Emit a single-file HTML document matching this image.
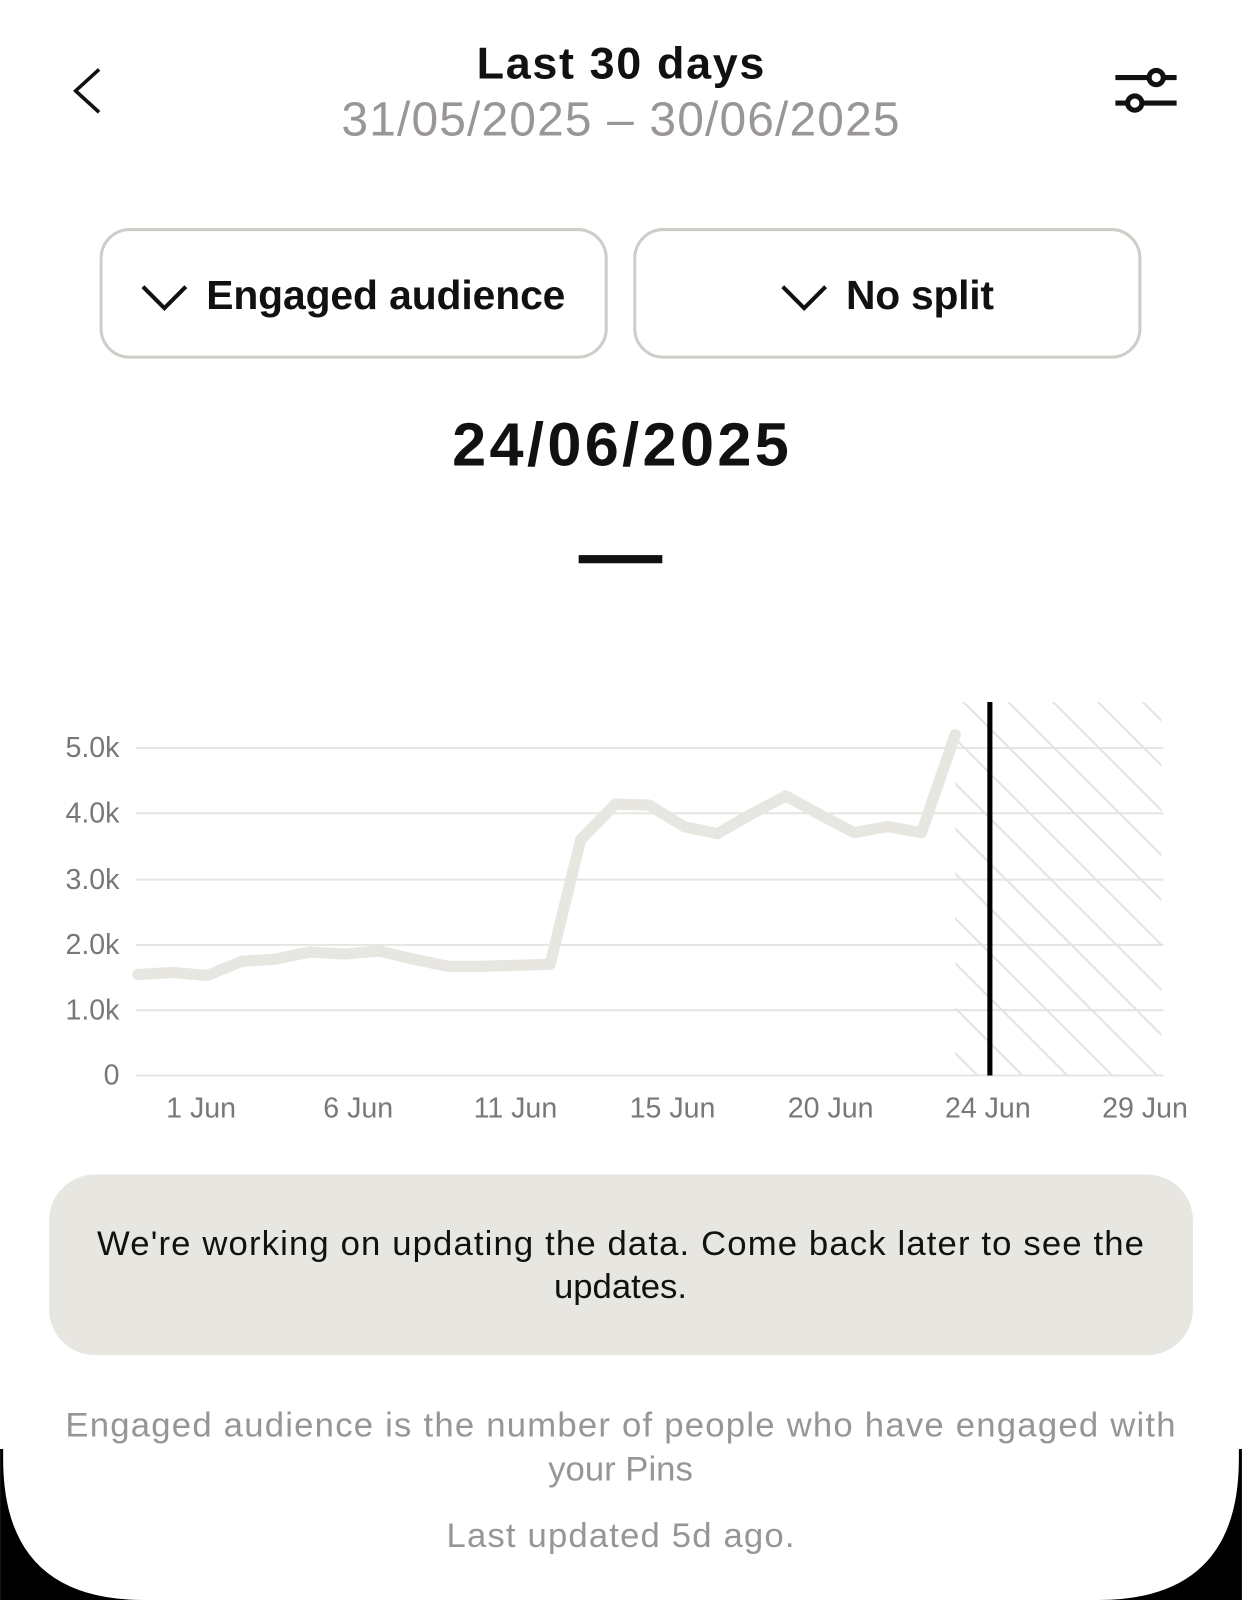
<!DOCTYPE html>
<html><head><meta charset="utf-8"><style>
html,body{margin:0;padding:0;background:#fff;width:1242px;height:1600px;overflow:hidden}
svg{display:block}
text{font-family:"Liberation Sans",sans-serif}
</style></head><body>
<svg width="1242" height="1600" viewBox="0 0 1217 1568" xmlns="http://www.w3.org/2000/svg">
<defs>
<clipPath id="hc"><rect x="936" y="688" width="202" height="366"/></clipPath>
</defs>
<rect x="0" y="1420" width="1217" height="148" fill="#000"/>
<path d="M3 0 H1214 V1430 Q1214 1568 1076 1568 H141 Q3 1568 3 1430 Z" fill="#fff"/>
<!-- header -->
<polyline points="97,68 74,89 97,110" fill="none" stroke="#111" stroke-width="3.5"/>
<text x="608" y="77" text-anchor="middle" font-size="44" font-weight="bold" fill="#111" textLength="282">Last 30 days</text>
<text x="608" y="133" text-anchor="middle" font-size="47" fill="#9a9696" textLength="547">31/05/2025 – 30/06/2025</text>
<g stroke="#111" stroke-width="5" fill="#fff">
<line x1="1093" y1="76" x2="1153" y2="76"/><line x1="1093" y1="101" x2="1153" y2="101"/>
<circle cx="1133" cy="76" r="7"/><circle cx="1112" cy="101" r="7"/>
</g>
<!-- buttons -->
<rect x="99" y="225" width="495" height="125" rx="28" fill="#fff" stroke="#cfcdc8" stroke-width="3"/>
<rect x="622" y="225" width="495" height="125" rx="28" fill="#fff" stroke="#cfcdc8" stroke-width="3"/>
<polyline points="140,281 161,302 182,281" fill="none" stroke="#111" stroke-width="4"/>
<polyline points="767,281 788,302 809,281" fill="none" stroke="#111" stroke-width="4"/>
<text x="202" y="303" font-size="40" font-weight="bold" fill="#111" textLength="352">Engaged audience</text>
<text x="829" y="303" font-size="40" font-weight="bold" fill="#111" textLength="145">No split</text>
<text x="608" y="456" text-anchor="middle" font-size="60" font-weight="bold" fill="#111" textLength="330">24/06/2025</text>
<rect x="567" y="544" width="82" height="8" fill="#111"/>
<!-- chart grid -->
<g stroke="#e6e5e1" stroke-width="2">
<line x1="133" y1="733" x2="1140" y2="733"/><line x1="133" y1="797" x2="1140" y2="797"/>
<line x1="133" y1="862" x2="1140" y2="862"/><line x1="133" y1="926" x2="1140" y2="926"/>
<line x1="133" y1="990" x2="1140" y2="990"/><line x1="133" y1="1054" x2="1140" y2="1054"/>
</g>
<g font-size="28" fill="#7a7776" text-anchor="end">
<text x="117" y="742">5.0k</text><text x="117" y="806">4.0k</text><text x="117" y="871">3.0k</text>
<text x="117" y="935">2.0k</text><text x="117" y="999">1.0k</text><text x="117" y="1063">0</text>
</g>
<g clip-path="url(#hc)" stroke="#e4e3df" stroke-width="2">
<line x1="536" y1="588" x2="1136" y2="1188"/><line x1="580" y1="588" x2="1180" y2="1188"/>
<line x1="624" y1="588" x2="1224" y2="1188"/><line x1="668" y1="588" x2="1268" y2="1188"/>
<line x1="712" y1="588" x2="1312" y2="1188"/><line x1="756" y1="588" x2="1356" y2="1188"/>
<line x1="800" y1="588" x2="1400" y2="1188"/><line x1="844" y1="588" x2="1444" y2="1188"/>
<line x1="888" y1="588" x2="1488" y2="1188"/><line x1="932" y1="588" x2="1532" y2="1188"/>
<line x1="976" y1="588" x2="1576" y2="1188"/><line x1="1020" y1="588" x2="1620" y2="1188"/>
<line x1="492" y1="588" x2="1092" y2="1188"/><line x1="448" y1="588" x2="1048" y2="1188"/>
<line x1="404" y1="588" x2="1004" y2="1188"/><line x1="360" y1="588" x2="960" y2="1188"/>
</g>
<polyline fill="none" stroke="#e7e6e1" stroke-width="11" stroke-linejoin="round" stroke-linecap="round"
points="135,955 169,953 203,956 237,942 270,940 304,933 338,935 372,932 405,940 439,947 472,947 506,946 539,945 569,823 603,788 636,789 670,810 703,817 736,798 770,780 803,798 837,816 870,810 903,816 936,720"/>
<line x1="970" y1="688" x2="970" y2="1054" stroke="#000" stroke-width="5"/>
<g font-size="28" fill="#7a7776" text-anchor="middle">
<text x="197" y="1095">1 Jun</text><text x="351" y="1095">6 Jun</text><text x="505" y="1095">11 Jun</text>
<text x="659" y="1095">15 Jun</text><text x="814" y="1095">20 Jun</text><text x="968" y="1095">24 Jun</text>
<text x="1122" y="1095">29 Jun</text>
</g>
<!-- message -->
<rect x="48" y="1151" width="1121" height="177" rx="45" fill="#e7e6e1"/>
<text x="608" y="1230" text-anchor="middle" font-size="34" fill="#111" textLength="1026">We're working on updating the data. Come back later to see the</text>
<text x="608" y="1272" text-anchor="middle" font-size="34" fill="#111">updates.</text>
<text x="608" y="1408" text-anchor="middle" font-size="34" fill="#999595" textLength="1088">Engaged audience is the number of people who have engaged with</text>
<text x="608" y="1451" text-anchor="middle" font-size="34" fill="#999595">your Pins</text>
<text x="608" y="1516" text-anchor="middle" font-size="34" fill="#999595" textLength="341">Last updated 5d ago.</text>
</svg>
</body></html>
